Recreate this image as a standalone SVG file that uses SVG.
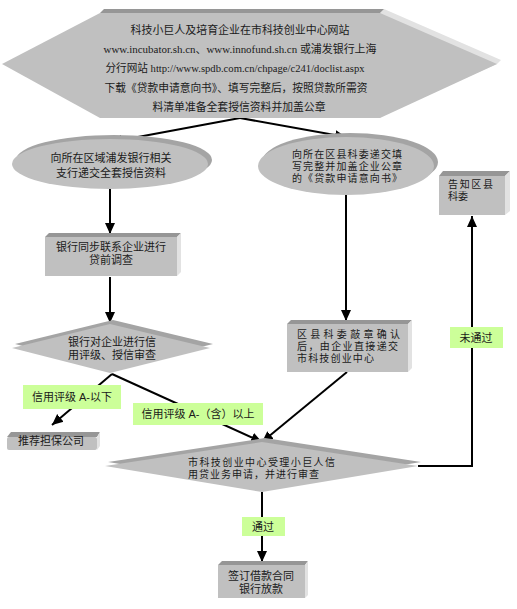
<svg xmlns="http://www.w3.org/2000/svg" width="517" height="609" viewBox="0 0 517 609">
<defs>
<style>
.f{fill:#c0c0c0}
.top{fill:#969696}
.side{fill:#e2e2e2}
.back{fill:#a4a4a4}
.t{font-family:"Liberation Sans","Noto Sans CJK SC",sans-serif;font-size:11px;fill:#1a1a1a}
.tt{font-family:"Liberation Sans","Noto Sans CJK SC",sans-serif;font-size:10px;fill:#1a1a1a}
.ts{font-family:"Liberation Serif","Noto Sans CJK SC",serif;font-size:11px;fill:#1a1a1a}
.lab{fill:#ccff99}
.c{stroke:#000;stroke-width:2;fill:none}
</style>
<marker id="ah" markerUnits="userSpaceOnUse" markerWidth="12" markerHeight="12" viewBox="0 0 12 12" refX="11" refY="6" orient="auto">
<path d="M0,1 L11,6 L0,11 Z" fill="#000"/>
</marker>
</defs>
<rect width="517" height="609" fill="#fff"/>

<g id="connectors">
<path class="c" d="M240,118 L111,142" marker-end="url(#ah)"/>
<path class="c" d="M240,118 L346,137" marker-end="url(#ah)"/>
<path class="c" d="M110,189 L110,234" marker-end="url(#ah)"/>
<path class="c" d="M110,277 L110,323" marker-end="url(#ah)"/>
<path class="c" d="M346,195 L346,321" marker-end="url(#ah)"/>
<path class="c" d="M112,374 L52,425" marker-end="url(#ah)"/>
<path class="c" d="M112,374 L262,442" marker-end="url(#ah)"/>
<path class="c" d="M347,372 L262,442" marker-end="url(#ah)"/>
<path class="c" d="M262,492 L262,562" marker-end="url(#ah)"/>
<path class="c" d="M418,466 L472,466 L472,216" marker-end="url(#ah)"/>
</g>

<g id="n_start">
<polygon class="side" points="380,13 384,9 501,60 497,64 384,114 380,118"/>
<polygon class="top" points="100,13 104,9 384,9 380,13"/>
<polygon class="f" points="100,13 380,13 497,64 380,118 100,118 2,64"/>
<text class="ts" x="240" y="34" text-anchor="middle" textLength="219" lengthAdjust="spacingAndGlyphs">科技小巨人及培育企业在市科技创业中心网站</text>
<text class="ts" x="240" y="53" text-anchor="middle" textLength="273" lengthAdjust="spacingAndGlyphs">www.incubator.sh.cn、www.innofund.sh.cn 或浦发银行上海</text>
<text class="ts" x="235" y="72" text-anchor="middle" textLength="259" lengthAdjust="spacingAndGlyphs">分行网站 http://www.spdb.com.cn/chpage/c241/doclist.aspx</text>
<text class="ts" x="236" y="92" text-anchor="middle" textLength="263" lengthAdjust="spacingAndGlyphs">下载《贷款申请意向书》、填写完整后，按照贷款所需资</text>
<text class="ts" x="239" y="111" text-anchor="middle" textLength="173" lengthAdjust="spacingAndGlyphs">料清单准备全套授信资料并加盖公章</text>
</g>

<g id="n_bank_submit">
<ellipse class="back" cx="114" cy="160" rx="98" ry="25"/>
<ellipse class="f" cx="110" cy="164" rx="98" ry="25"/>
<text class="t" x="111" y="162" text-anchor="middle">向所在区域浦发银行相关</text>
<text class="t" x="111" y="177" text-anchor="middle">支行递交全套授信资料</text>
</g>

<g id="n_county_submit">
<ellipse class="back" cx="350" cy="162" rx="88" ry="29"/>
<ellipse class="f" cx="346" cy="166" rx="88" ry="29"/>
<text class="tt" x="292" y="158" textLength="110" lengthAdjust="spacing">向所在区县科委递交填</text>
<text class="tt" x="292" y="170" textLength="110" lengthAdjust="spacing">写完整并加盖企业公章</text>
<text class="tt" x="292" y="182" textLength="110" lengthAdjust="spacing">的《贷款申请意向书》</text>
</g>

<g id="n_notify">
<polygon class="top" points="439,176 443,171 510,171 505,176"/>
<polygon class="side" points="505,176 510,171 510,211 505,215"/>
<rect class="f" x="439" y="176" width="66" height="39"/>
<text class="tt" x="448" y="188" textLength="45" lengthAdjust="spacing">告知区县</text>
<text class="tt" x="448" y="200">科委</text>
</g>

<g id="n_survey">
<polygon class="top" points="45,237 49,233 181,233 177,237"/>
<polygon class="side" points="177,237 181,233 181,272 177,276"/>
<rect class="f" x="45" y="237" width="132" height="39"/>
<text class="t" x="111" y="251" text-anchor="middle">银行同步联系企业进行</text>
<text class="t" x="111" y="264" text-anchor="middle">贷前调查</text>
</g>

<g id="n_rating">
<polygon class="back" points="15,344 113,320 213,344 113,369"/>
<polygon class="f" points="12,348 110,324 210,348 110,373"/>
<text class="t" x="112" y="346" text-anchor="middle">银行对企业进行信</text>
<text class="t" x="112" y="359" text-anchor="middle">用评级、授信审查</text>
</g>

<g id="n_county_confirm">
<polygon class="top" points="287,324 291,320 412,320 408,324"/>
<polygon class="side" points="408,324 412,320 412,368 408,372"/>
<rect class="f" x="287" y="324" width="121" height="48"/>
<text class="tt" x="297" y="338" textLength="103" lengthAdjust="spacing">区县科委敲章确认</text>
<text class="tt" x="297" y="350" textLength="101" lengthAdjust="spacing">后，由企业直接递交</text>
<text class="tt" x="297" y="362" textLength="77" lengthAdjust="spacing">市科技创业中心</text>
</g>

<g id="n_guarantee">
<polygon class="top" points="7,437 11,432 100,432 97,437"/>
<polygon class="side" points="97,437 100,432 100,446 97,450"/>
<rect class="f" x="7" y="437" width="90" height="13" rx="2"/>
<text class="t" x="51" y="445" text-anchor="middle">推荐担保公司</text>
</g>

<g id="n_center_review">
<polygon class="back" points="108,462 265,438 421,462 265,488"/>
<polygon class="f" points="105,466 262,442 418,466 262,492"/>
<text class="tt" x="188" y="466" textLength="147" lengthAdjust="spacing">市科技创业中心受理小巨人信</text>
<text class="tt" x="188" y="478" textLength="131" lengthAdjust="spacing">用贷业务申请，并进行审查</text>
</g>

<g id="n_loan">
<polygon class="top" points="218,565 222,561 308,561 305,565"/>
<polygon class="side" points="305,565 308,561 308,595 305,598"/>
<rect class="f" x="218" y="565" width="87" height="33"/>
<text class="t" x="261" y="580" text-anchor="middle">签订借款合同</text>
<text class="t" x="261" y="593" text-anchor="middle">银行放款</text>
</g>

<g id="labels">
<rect class="lab" x="23" y="385" width="98" height="24"/>
<text class="t" x="72" y="401" text-anchor="middle">信用评级 A-以下</text>
<rect class="lab" x="133" y="403" width="130" height="22"/>
<text class="t" x="198" y="418" text-anchor="middle">信用评级 A-（含）以上</text>
<rect class="lab" x="450" y="327" width="53" height="21"/>
<text class="t" x="476" y="342" text-anchor="middle">未通过</text>
<rect class="lab" x="242" y="517" width="43" height="19"/>
<text class="t" x="263" y="531" text-anchor="middle">通过</text>
</g>
</svg>
